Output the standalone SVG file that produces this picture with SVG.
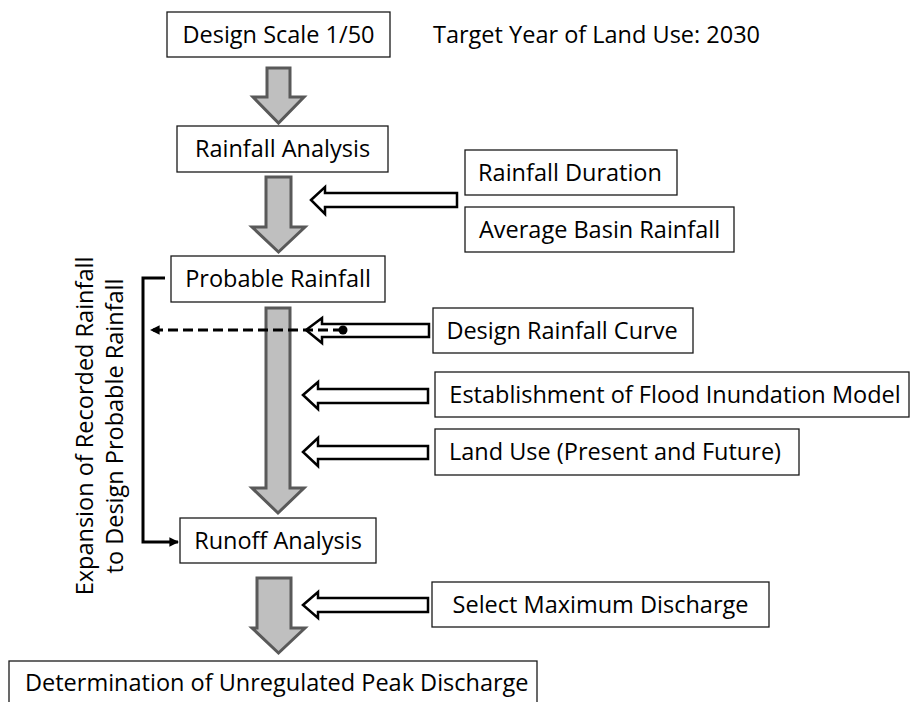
<svg xmlns="http://www.w3.org/2000/svg" width="910" height="702" viewBox="0 0 910 702">
  <style>
    .box { fill: #ffffff; stroke: #1a1a1a; stroke-width: 1.3; }
    .lbl { font-family: "Open Sans", "Liberation Sans", sans-serif; font-size: 23.5px; fill: #000000; }
    .mid { text-anchor: middle; }
    .flow { fill: #bfbfbf; stroke: #595959; stroke-width: 3; stroke-linejoin: miter; }
    .feed { fill: #ffffff; stroke: #000000; stroke-width: 2.5; stroke-linejoin: miter; }
    .link { fill: none; stroke: #000000; stroke-width: 3; }
    .dash { fill: none; stroke: #000000; stroke-width: 3; stroke-dasharray: 10 5; }
  </style>
  <defs>
    <marker id="tip" viewBox="0 0 10 10" refX="9" refY="5" markerWidth="3.2" markerHeight="3.2" markerUnits="strokeWidth" orient="auto">
      <path d="M0,0 L10,5 L0,10 Z" fill="#000000"/>
    </marker>
  </defs>

  <rect width="910" height="702" fill="#ffffff"/>

  <!-- main flow arrows (grey block arrows) -->
  <g id="connectors">
    <polygon class="flow" points="267,68 290,68 290,97 304,97 278.5,123 253,97 267,97"/>
    <polygon class="flow" points="266,177 291,177 291,227 305,227 278.5,252 252,227 266,227"/>
    <polygon class="flow" points="266,308 290,308 290,488 304,488 278,513 252,488 266,488"/>
    <polygon class="flow" points="257,578 291,578 291,628 305,628 278.5,653 252,628 257,628"/>

    <!-- input arrows (hollow) -->
    <polygon class="feed" points="311,200 325,187 325,193 457,193 457,207 325,207 325,214"/>
    <polygon class="feed" points="306,330 322,318 322,324 429,324 429,337 322,337 322,343"/>
    <polygon class="feed" points="303,395 318,382 318,389 428,389 428,403 318,403 318,409"/>
    <polygon class="feed" points="303,452 318,438 318,446 428,446 428,459 318,459 318,466"/>
    <polygon class="feed" points="303,605 318,592 318,598 428,598 428,612 318,612 318,618"/>

    <!-- design rainfall curve feedback (dashed) -->
    <line class="dash" x1="343" y1="330" x2="151" y2="330" marker-end="url(#tip)"/>
    <circle cx="343" cy="330" r="4.5" fill="#000000"/>

    <!-- expansion bracket from Probable Rainfall to Runoff Analysis -->
    <polyline class="link" points="165,278 143,278 143,542 178,542" marker-end="url(#tip)"/>
  </g>

  <g id="design-scale">
    <rect class="box" x="167" y="12" width="223" height="45"/>
    <text class="lbl mid" x="278.5" y="43">Design Scale 1/50</text>
  </g>

  <g id="target-year">
    <text class="lbl" x="433" y="43">Target Year of Land Use: 2030</text>
  </g>

  <g id="rainfall-analysis">
    <rect class="box" x="177" y="126" width="211" height="46"/>
    <text class="lbl mid" x="282.5" y="157">Rainfall Analysis</text>
  </g>

  <g id="rainfall-duration">
    <rect class="box" x="465" y="150" width="212" height="45"/>
    <text class="lbl mid" x="570" y="181">Rainfall Duration</text>
  </g>

  <g id="average-basin-rainfall">
    <rect class="box" x="465" y="207" width="269" height="45"/>
    <text class="lbl mid" x="599.5" y="238">Average Basin Rainfall</text>
  </g>

  <g id="probable-rainfall">
    <rect class="box" x="171" y="256" width="214" height="46"/>
    <text class="lbl mid" x="278" y="287">Probable Rainfall</text>
  </g>

  <g id="design-rainfall-curve">
    <rect class="box" x="433" y="308" width="260" height="45"/>
    <text class="lbl mid" x="562" y="339">Design Rainfall Curve</text>
  </g>

  <g id="flood-inundation-model">
    <rect class="box" x="435" y="372" width="474" height="45"/>
    <text class="lbl mid" x="675" y="403">Establishment of Flood Inundation Model</text>
  </g>

  <g id="land-use">
    <rect class="box" x="435" y="429" width="364" height="46"/>
    <text class="lbl mid" x="615" y="460">Land Use (Present and Future)</text>
  </g>

  <g id="runoff-analysis">
    <rect class="box" x="180" y="518" width="196" height="45"/>
    <text class="lbl mid" x="278" y="549">Runoff Analysis</text>
  </g>

  <g id="select-maximum-discharge">
    <rect class="box" x="432" y="582" width="337" height="45"/>
    <text class="lbl mid" x="600.5" y="613">Select Maximum Discharge</text>
  </g>

  <g id="peak-discharge">
    <rect class="box" x="9" y="661" width="528" height="50"/>
    <text class="lbl" x="25" y="691">Determination of Unregulated Peak Discharge</text>
  </g>

  <g id="expansion-label">
    <text class="lbl mid" transform="translate(93,426) rotate(-90)">Expansion of Recorded Rainfall</text>
    <text class="lbl mid" transform="translate(123,426) rotate(-90)">to Design Probable Rainfall</text>
  </g>
</svg>
